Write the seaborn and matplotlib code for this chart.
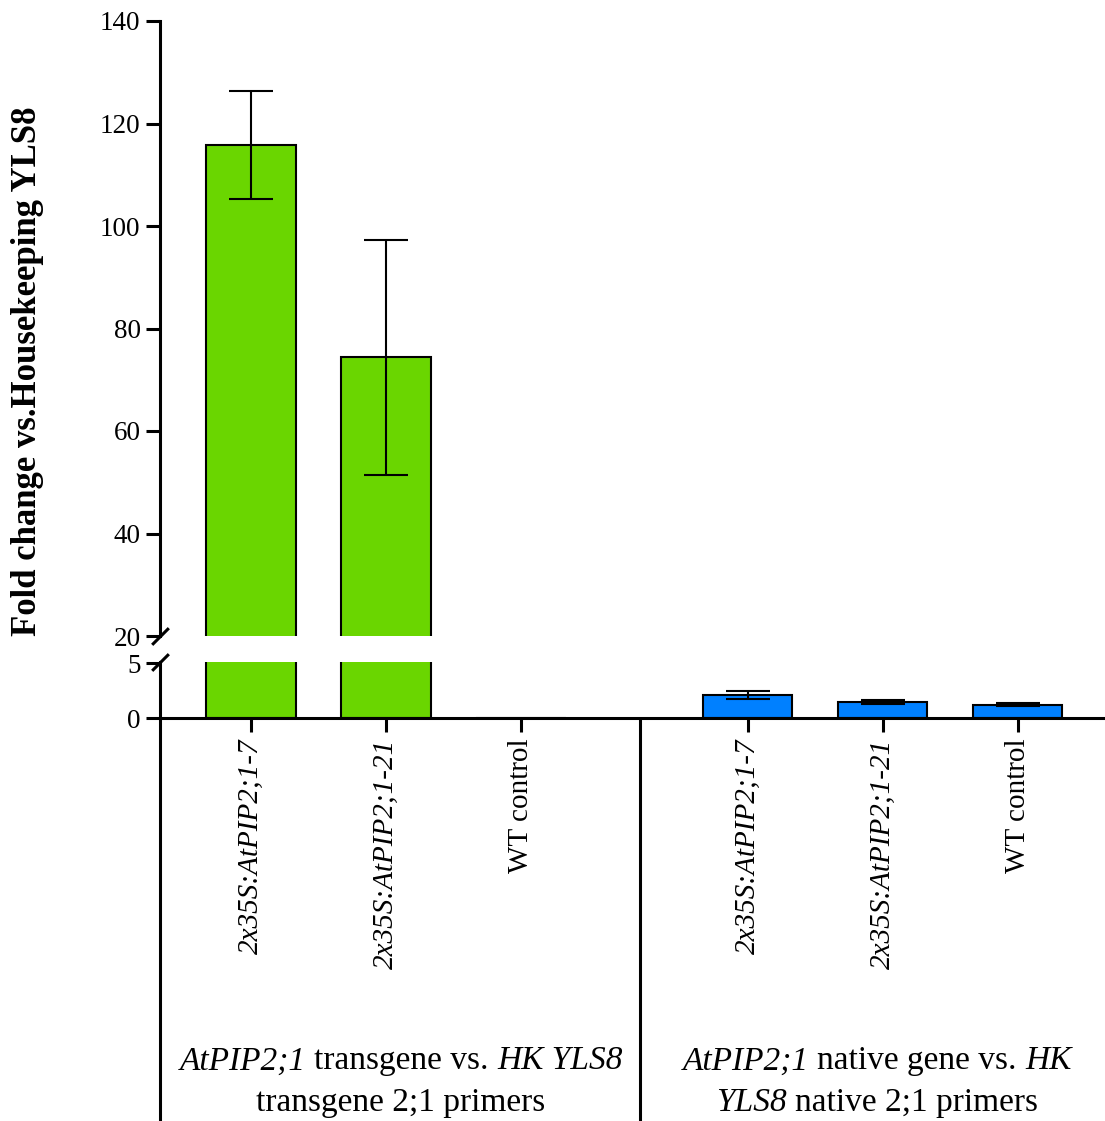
import matplotlib
matplotlib.use("Agg")
import matplotlib.pyplot as plt
import matplotlib.transforms as mtransforms
from matplotlib.offsetbox import TextArea, HPacker, VPacker, AnnotationBbox
import pandas as pd
import seaborn as sns

# values (mean fold change and error bar half-length)
line_names = ["2x35S:AtPIP2;1-7", "2x35S:AtPIP2;1-21", "WT control"]
groups = ["transgene", "native"]
transgene_mean = [115.8, 74.4, 0.0]
transgene_err = [10.6, 22.9, 0.0]
native_mean = [2.1, 1.45, 1.22]
native_err = [0.37, 0.21, 0.15]

sns.set_style("ticks")
plt.rcParams["font.family"] = "Liberation Serif"
plt.rcParams.update({"text.color": "black", "axes.labelcolor": "black",
                     "xtick.color": "black", "ytick.color": "black",
                     "axes.edgecolor": "black"})

palette = {"transgene": "#6ad600", "native": "#0080ff"}
gap = 1.68  # distance between last bar of group 1 and first bar of group 2
sep_x = 2.88

rows = []
for g, means, errs, offset in [("transgene", transgene_mean, transgene_err, 0.0),
                               ("native", native_mean, native_err, 2 + gap)]:
    for i, name in enumerate(line_names):
        rows.append({"group": g, "line": name, "pos": i + offset,
                     "mean": means[i], "err": errs[i]})
df = pd.DataFrame(rows)

W, H = 1105, 1121
fig = plt.figure(figsize=(W / 100, H / 100), dpi=100)


def box(l, t, r, b):
    return [l / W, 1 - b / H, (r - l) / W, (b - t) / H]


ax_top = fig.add_axes(box(160, 21, 1105, 636))
ax_bot = fig.add_axes(box(160, 662, 1105, 718))

for ax in (ax_top, ax_bot):
    sns.barplot(data=df, x="pos", y="mean", hue="group", palette=palette,
                native_scale=True, dodge=False, width=0.66, errorbar=None,
                saturation=1, edgecolor="black", linewidth=1.5, legend=False, ax=ax)
    sub = df[df["err"] > 0]
    ax.errorbar(sub["pos"], sub["mean"], yerr=sub["err"], fmt="none",
                ecolor="black", elinewidth=1.5, capsize=16, capthick=1.5)
    ax.set_xlim(-0.674, 6.326)
    ax.set_xlabel("")
    ax.set_ylabel("")
    for s in ["top", "right"]:
        ax.spines[s].set_visible(False)
    ax.spines["left"].set_linewidth(2.2)
    ax.spines["bottom"].set_linewidth(2.2)
    ax.tick_params(axis="y", length=10, width=2.2, labelsize=19.5, pad=4)

ax_top.set_ylim(20, 140)
ax_top.set_yticks(range(20, 141, 20))
ax_top.spines["bottom"].set_visible(False)
ax_top.tick_params(axis="x", bottom=False, labelbottom=False)

ax_bot.set_ylim(0, 5.1)
ax_bot.set_yticks([0, 5])
ax_bot.set_xticks(df["pos"])
ax_bot.set_xticklabels(df["line"], rotation=90, va="top", fontsize=21)
ax_bot.tick_params(axis="x", length=10, width=2.2, pad=5)
for lbl in ax_bot.get_xticklabels():
    if lbl.get_text() != "WT control":
        lbl.set_fontstyle("italic")

# axis break marks
kw = dict(marker=[(-1, -1), (1, 1)], markersize=12, linestyle="none",
          color="black", mec="black", mew=2.2, clip_on=False)
ax_top.plot([0], [0], transform=ax_top.transAxes, **kw)
ax_bot.plot([0], [1], transform=ax_bot.transAxes, **kw)

# left spine and group separator run down to the figure edge
trans = mtransforms.blended_transform_factory(ax_bot.transData, ax_bot.transAxes)
ax_bot.plot([sep_x, sep_x], [0, -8], transform=trans, color="black", lw=2.2, clip_on=False)
ax_bot.plot([0, 0], [0, -8], transform=ax_bot.transAxes, color="black", lw=2.2, clip_on=False)

fig.text(28 / W, 1 - 371 / H, "Fold change vs.Housekeeping YLS8", rotation=90,
         fontweight="bold", fontsize=25, ha="center", va="center")


def rich_line(parts, size=24):
    kids = [TextArea(t, textprops=dict(fontsize=size, fontstyle="italic" if it else "normal",
                                       family="Liberation Serif", color="black"))
            for t, it in parts]
    return HPacker(children=kids, sep=6, pad=0, align="baseline")


group_labels = [
    (401, [[("AtPIP2;1", True), ("transgene vs.", False), ("HK YLS8", True)],
           [("transgene 2;1 primers", False)]]),
    (877, [[("AtPIP2;1", True), ("native gene vs.", False), ("HK", True)],
           [("YLS8", True), ("native 2;1 primers", False)]]),
]
for cx, text_lines in group_labels:
    pack = VPacker(children=[rich_line(p) for p in text_lines], sep=8, pad=0, align="center")
    ab = AnnotationBbox(pack, (cx / W, 1 - 1082 / H), xycoords="figure fraction",
                        frameon=False, box_alignment=(0.5, 0.5))
    fig.add_artist(ab)

fig.savefig("out.png", dpi=100)
